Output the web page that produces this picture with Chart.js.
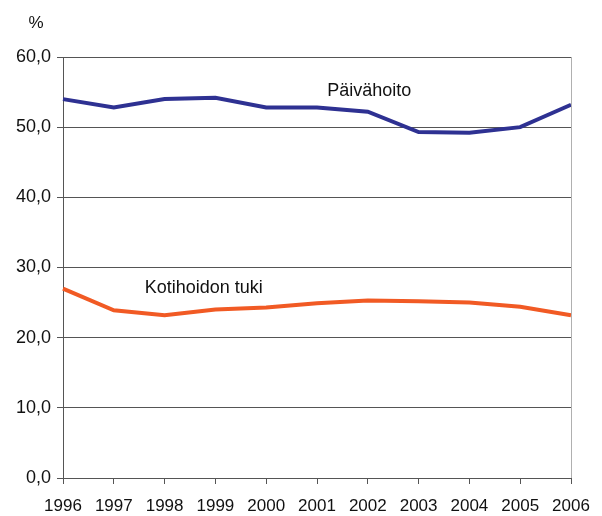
<!DOCTYPE html>
<html lang="fi">
<head>
  <meta charset="UTF-8">
  <title>Päivähoito ja kotihoidon tuki</title>
  <script src="https://cdn.jsdelivr.net/npm/chart.js"></script>
  <style>
    html, body { margin: 0; padding: 0; background: #fff; }
    .chart-container { width: 602px; height: 516px; position: relative; }
  </style>
</head>
<body>
  <div class="chart-container">
    <canvas id="myChart" width="602" height="516"></canvas>
  </div>

  <script>
    // --- data ---
    const years = ['1996', '1997', '1998', '1999', '2000', '2001', '2002', '2003', '2004', '2005', '2006'];
    const paivahoito = [54.0, 52.8, 54.0, 54.2, 52.8, 52.8, 52.2, 49.3, 49.2, 50.0, 53.2];
    const kotihoidonTuki = [27.0, 23.9, 23.2, 24.0, 24.3, 24.9, 25.3, 25.2, 25.0, 24.4, 23.2];
    const yTicks = [0, 10, 20, 30, 40, 50, 60];

    const FAMILY = '"Liberation Sans", Arial, sans-serif';
    const GRID = '#555555';

    // series name labels drawn next to the lines + "%" unit + right frame line
    const annotations = {
      id: 'annotations',
      afterDraw(chart) {
        const { ctx, chartArea, scales: { x, y } } = chart;
        ctx.save();
        ctx.strokeStyle = '#b0b0b0';
        ctx.lineWidth = 1;
        ctx.beginPath();
        ctx.moveTo(chartArea.right + 0.5, chartArea.top);
        ctx.lineTo(chartArea.right + 0.5, chartArea.bottom);
        ctx.stroke();

        ctx.fillStyle = '#111';
        ctx.font = '18px ' + FAMILY;
        ctx.textBaseline = 'middle';
        ctx.textAlign = 'left';
        ctx.fillText('Päivähoito', x.getPixelForValue(5.2), y.getPixelForValue(55.2));
        ctx.fillText('Kotihoidon tuki', x.getPixelForValue(1.61), y.getPixelForValue(27.1));
        ctx.font = '17px ' + FAMILY;
        ctx.textAlign = 'center';
        ctx.fillText('%', 36, 23);
        ctx.restore();
      }
    };

    new Chart(document.getElementById('myChart'), {
      type: 'line',
      data: {
        labels: years,
        datasets: [
          { label: 'Päivähoito', data: paivahoito, borderColor: '#2e3192', borderWidth: 4, pointRadius: 0, tension: 0 },
          { label: 'Kotihoidon tuki', data: kotihoidonTuki, borderColor: '#f15a24', borderWidth: 4, pointRadius: 0, tension: 0 }
        ]
      },
      options: {
        responsive: false,
        animation: false,
        devicePixelRatio: 1,
        layout: { padding: { top: 57, right: 31, left: 0, bottom: 0 } },
        plugins: { legend: { display: false }, tooltip: { enabled: false } },
        scales: {
          x: {
            offset: false,
            afterFit(scale) { scale.height = 38; },
            grid: { display: true, drawOnChartArea: false, drawTicks: true, tickLength: 6, color: GRID },
            border: { color: GRID, width: 1 },
            ticks: { color: '#111', font: { family: FAMILY, size: 17 }, padding: 12, maxRotation: 0, autoSkip: false }
          },
          y: {
            min: 0,
            max: 60,
            afterFit(scale) { scale.width = 63; },
            afterBuildTicks(scale) { scale.ticks = yTicks.map(v => ({ value: v })); },
            grid: { color: GRID, tickLength: 6 },
            border: { color: GRID, width: 1 },
            ticks: {
              color: '#111', font: { family: FAMILY, size: 18 }, padding: 6,
              callback: v => v.toFixed(1).replace('.', ',')
            }
          }
        }
      },
      plugins: [annotations]
    });
  </script>
</body>
</html>
